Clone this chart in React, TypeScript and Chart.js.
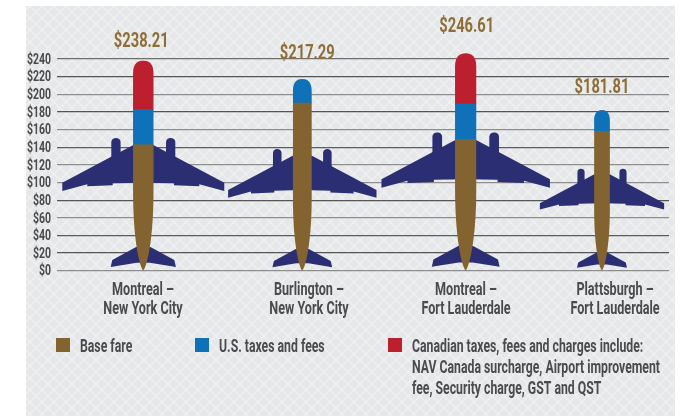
import React, { useEffect, useRef } from "react";
import { Chart, registerables, CategoryScale } from "chart.js";

// ---- data ----
const routeLabels = [
  ["Montreal –", "New York City"],
  ["Burlington –", "New York City"],
  ["Montreal –", "Fort Lauderdale"],
  ["Plattsburgh –", "Fort Lauderdale"],
];
const baseFare = [142.7, 190, 149, 158];
const usTaxes = [40.31, 27.29, 40.2, 23.81];
const canadianTaxes = [55.2, 0, 57.41, 0];
const legendLines = [
  ["Base fare"],
  ["U.S. taxes and fees"],
  [
    "Canadian taxes, fees and charges include:",
    "NAV Canada surcharge, Airport improvement",
    "fee, Security charge, GST and QST",
  ],
];

// ---- style & layout ----
const BROWN = "#836430";
const BLUE = "#0f71b8";
const RED = "#bc1f2e";
const NAVY = "#2b2e72";
const TEXT = "#4b4b4d";
const TOTAL = "#8d6e37";
const FONT = 'Roboto, "Liberation Sans", sans-serif';
const TEXT_SQUEEZE = 0.7;
const PLOT_LEFT = 57;
const PLOT_RIGHT = 669;
const barCentres = [143.3, 302.3, 465.7, 602];
const labelCentres = [143, 309, 466, 615];
const planeScales = [1, 0.916, 1.04, 0.767];
const totalOffsets = [19, 25, 26, 23];
const totalDx = [-2, 5, 1, 0];
const gridShades = ["#8e8e8e", "#555", "#5c5c5c", "#8e8e8e", "#555", "#8e8e8e", "#8e8e8e", "#5c5c5c", "#8e8e8e", "#555", "#8e8e8e", "#555", "#6e6e6e"];

class RouteScale extends CategoryScale {
  static id = "routes";
  static defaults = CategoryScale.defaults;
  getPixelForValue(value: any, index?: number) {
    const i = typeof value === "number" ? value : (index ?? 0);
    return barCentres[i];
  }
  getPixelForTick(index: number) {
    return labelCentres[index];
  }
}

Chart.register(...registerables, RouteScale);

// plane outline, one half, in px around the centre line at full scale: [dx, height above $0]
const wingHalf = [
  [0, 130], [10, 125.7], [81, 88], [81, 79.7], [56, 86.4], [56, 84.4], [30.6, 85.4], [30.6, 87.4], [0, 88],
];
const engineHalf = { left: 22.7, right: 32, top: 133.7, bottom: 105 };
const tailHalf = [
  [0, 26], [7.6, 23.4], [31, 10.7], [32.6, 3.7], [6.6, 8], [0, 8],
];

function tracePoly(ctx: CanvasRenderingContext2D, cx: number, y0: number, s: number, pts: number[][], dir: number) {
  ctx.beginPath();
  pts.forEach(([dx, h], i) => {
    const px = cx + dir * dx * s;
    const py = y0 - h * s;
    if (i === 0) ctx.moveTo(px, py);
    else ctx.lineTo(px, py);
  });
  ctx.closePath();
  ctx.fill();
}

function makeLattice(): CanvasPattern | null {
  const tile = document.createElement("canvas");
  tile.width = 12;
  tile.height = 12;
  const t = tile.getContext("2d")!;
  t.fillStyle = "#e6e7e8";
  t.fillRect(0, 0, 12, 12);
  t.strokeStyle = "#eff0f1";
  t.lineWidth = 1.4;
  t.beginPath();
  t.moveTo(-1, -1);
  t.lineTo(13, 13);
  t.moveTo(-1, 13);
  t.lineTo(13, -1);
  t.stroke();
  return t.createPattern(tile, "repeat");
}

// The reference uses a condensed face, none is installed: squeeze every text draw horizontally.
function condenseText(ctx: any) {
  const original = ctx.fillText.bind(ctx);
  ctx.fillText = (text: string, x: number, y: number) => {
    ctx.save();
    ctx.translate(x, y);
    ctx.scale(TEXT_SQUEEZE, 1);
    original(text, 0, 0);
    ctx.restore();
  };
}

const scenePlugin = {
  id: "scene",
  beforeDraw(chart: any) {
    const { ctx, width, height } = chart;
    ctx.save();
    ctx.fillStyle = "#ffffff";
    ctx.fillRect(0, 0, width, height);
    ctx.fillStyle = makeLattice();
    ctx.fillRect(26, 6, 649, height - 6);
    ctx.restore();
  },
  afterDatasetsUpdate(chart: any) {
    chart.data.datasets.forEach((_: any, d: number) => {
      chart.getDatasetMeta(d).data.forEach((el: any, i: number) => {
        el.width = 20.5 * planeScales[i];
      });
    });
  },
  beforeDatasetsDraw(chart: any) {
    const { ctx, scales } = chart;
    const y0 = scales.y.getPixelForValue(0);
    ctx.save();
    ctx.fillStyle = NAVY;
    barCentres.forEach((_, i) => {
      const s = planeScales[i];
      const cx = scales.x.getPixelForValue(i);
      [-1, 1].forEach((dir) => {
        tracePoly(ctx, cx, y0, s, wingHalf, dir);
        tracePoly(ctx, cx, y0, s, tailHalf, dir);
        const l = cx + dir * ((engineHalf.left + engineHalf.right) / 2) * s;
        const w = ((engineHalf.right - engineHalf.left) / 2) * s;
        const top = y0 - engineHalf.top * s;
        const bot = y0 - engineHalf.bottom * s;
        ctx.beginPath();
        ctx.moveTo(l - w, bot);
        ctx.lineTo(l - w, top + 5 * s);
        ctx.bezierCurveTo(l - w, top - 0.5, l + w, top - 0.5, l + w, top + 5 * s);
        ctx.lineTo(l + w, bot);
        ctx.closePath();
        ctx.fill();
      });
    });
    // fuselage clip: rounded tail end at the top, tapered nose at $0
    ctx.restore();
    ctx.save();
    ctx.beginPath();
    barCentres.forEach((_, i) => {
      const s = planeScales[i];
      const cx = scales.x.getPixelForValue(i);
      const hw = 10.25 * s;
      const total = baseFare[i] + usTaxes[i] + canadianTaxes[i];
      const top = scales.y.getPixelForValue(total);
      ctx.moveTo(cx - hw, top + 13 * s);
      ctx.bezierCurveTo(cx - hw, top + 3 * s, cx - hw * 0.55, top, cx, top);
      ctx.bezierCurveTo(cx + hw * 0.55, top, cx + hw, top + 3 * s, cx + hw, top + 13 * s);
      ctx.lineTo(cx + hw, y0 - 80 * s);
      ctx.bezierCurveTo(cx + hw, y0 - 35 * s, cx + hw * 0.45, y0 - 6 * s, cx, y0);
      ctx.bezierCurveTo(cx - hw * 0.45, y0 - 6 * s, cx - hw, y0 - 35 * s, cx - hw, y0 - 80 * s);
      ctx.closePath();
    });
    ctx.clip();
  },
  afterDatasetsDraw(chart: any) {
    const { ctx, scales } = chart;
    ctx.restore();
    ctx.save();
    // totals
    ctx.font = `bold 21px ${FONT}`;
    ctx.fillStyle = TOTAL;
    ctx.textAlign = "center";
    ctx.textBaseline = "middle";
    barCentres.forEach((_, i) => {
      const total = baseFare[i] + usTaxes[i] + canadianTaxes[i];
      const y = scales.y.getPixelForValue(total) - totalOffsets[i];
      ctx.fillText(`$${total.toFixed(2)}`, scales.x.getPixelForValue(i) + totalDx[i], y);
    });
    // legend
    const swatchX = [56, 195, 388];
    const textX = [80, 219, 412];
    const lineY = [347.5, 368.5, 389.5];
    ctx.font = `bold 17.5px ${FONT}`;
    ctx.textAlign = "left";
    chart.data.datasets.forEach((ds: any, i: number) => {
      ctx.fillStyle = ds.backgroundColor;
      ctx.fillRect(swatchX[i], 338, 14, 14);
      ctx.fillStyle = TEXT;
      legendLines[i].forEach((line, j) => ctx.fillText(line, textX[i], lineY[j]));
    });
    ctx.restore();
  },
};

export default function App() {
  const ref = useRef<HTMLCanvasElement>(null);
  useEffect(() => {
    condenseText(ref.current!.getContext("2d"));
    const chart = new Chart(ref.current!, {
      type: "bar",
      data: {
        labels: routeLabels as any,
        datasets: [
          { label: "Base fare", data: baseFare, backgroundColor: BROWN, barThickness: 20, clip: false },
          { label: "U.S. taxes and fees", data: usTaxes, backgroundColor: BLUE, barThickness: 20, clip: false },
          { label: "Canadian taxes, fees and charges", data: canadianTaxes, backgroundColor: RED, barThickness: 20, clip: false },
        ],
      },
      options: {
        animation: false,
        responsive: false,
        maintainAspectRatio: false,
        layout: { padding: { top: 59, left: 0, right: 686 - PLOT_RIGHT, bottom: 0 } },
        plugins: { legend: { display: false }, tooltip: { enabled: false } },
        scales: {
          x: {
            type: "routes" as any,
            axis: "x",
            stacked: true,
            grid: { display: false },
            border: { display: false },
            afterFit(scale: any) {
              scale.height = 416 - 270.7;
              scale.paddingLeft = 0;
              scale.paddingRight = 0;
            },
            ticks: {
              autoSkip: false,
              maxRotation: 0,
              padding: 2,
              color: TEXT,
              font: { family: FONT, weight: "bold", size: 18, lineHeight: 1.05 },
            },
          } as any,
          y: {
            stacked: true,
            min: 0,
            max: 240,
            grid: {
              color: (c: any) => gridShades[c.index] ?? "#666",
              lineWidth: 1.2,
              drawTicks: false,
            },
            border: { display: false },
            afterFit(scale: any) {
              scale.width = PLOT_LEFT;
            },
            ticks: {
              autoSkip: false,
              stepSize: 20,
              padding: 6,
              labelOffset: 1,
              color: TEXT,
              font: { family: FONT, weight: "bold", size: 15 },
              callback: (v: any) => `$${v}`,
            },
          },
        },
      },
      plugins: [scenePlugin],
    } as any);
    return () => chart.destroy();
  }, []);
  return (
    <canvas
      ref={ref}
      width={686}
      height={416}
      style={{ position: "absolute", left: 0, top: 0, width: 686, height: 416 }}
    />
  );
}
